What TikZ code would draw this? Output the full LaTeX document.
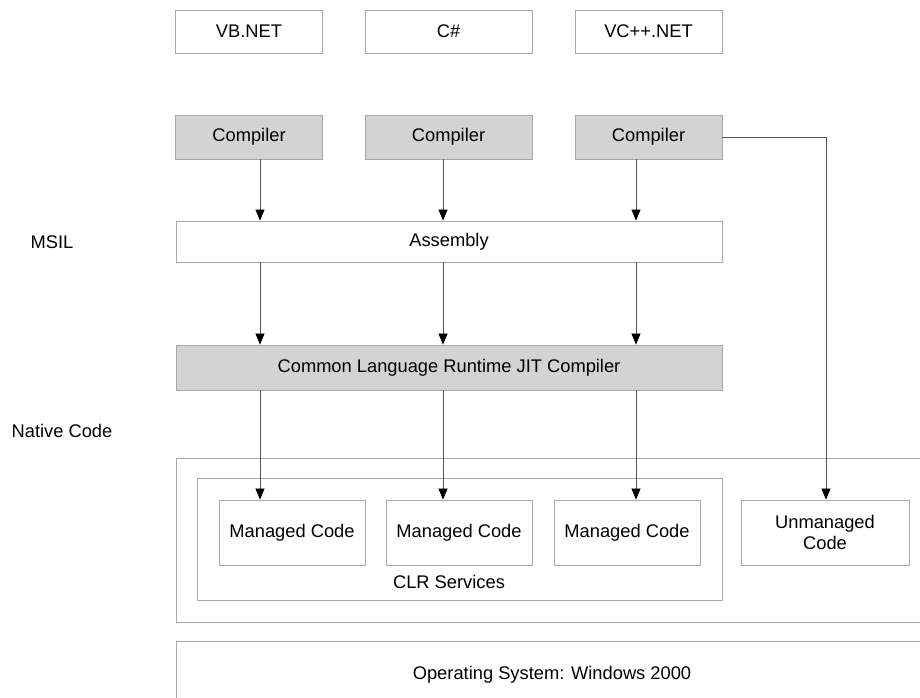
\documentclass[tikz,border=0pt]{standalone}
\usepackage{fontspec}
\setmainfont{Liberation Sans}
\usetikzlibrary{arrows.meta}
\definecolor{boxline}{HTML}{A8A8A8}
\definecolor{boxfill}{HTML}{D3D3D3}
\definecolor{conn}{HTML}{555555}
\tikzset{
  box/.style={draw=boxline, line width=0.9pt, fill=white, inner sep=0pt, font=\fontsize{18.3}{21}\selectfont},
  gbox/.style={box, fill=boxfill},
  lbl/.style={inner sep=0pt, font=\fontsize{18.3}{21}\selectfont},
  arr/.style={draw=conn, line width=0.7pt, -{Triangle[length=11pt,width=9pt,fill=black,color=black]}},
  ln/.style={draw=conn, line width=0.7pt}
}
\begin{document}
\begin{tikzpicture}[x=1pt,y=-1pt]
\useasboundingbox (0,0) rectangle (920,697);
\fill[white] (0,0) rectangle (920,697);
% columns
\coordinate (x1) at (260,0);
\coordinate (x2) at (443,0);
\coordinate (x3) at (636,0);
\coordinate (x4) at (826,0);
% outer containers (clipped at page edge)
\begin{scope}
\clip (0,0) rectangle (920,697);
\node[box, minimum width=752, minimum height=164] (outer) at (552,540) {};
\node[box, minimum width=752, minimum height=68] (os) at (552,675) {Operating System: Windows 2000};
\end{scope}
% top language boxes
\node[box, minimum width=147, minimum height=43] (vb) at (249,31.5) {VB.NET};
\node[box, minimum width=167, minimum height=43] (cs) at (448.5,31.5) {C\#};
\node[box, minimum width=147, minimum height=43] (vc) at (648.5,31.5) {VC++.NET};
% compilers
\node[gbox, minimum width=147, minimum height=44] (c1) at (249,137) {Compiler};
\node[gbox, minimum width=167, minimum height=44] (c2) at (448.5,137) {Compiler};
\node[gbox, minimum width=147, minimum height=44] (c3) at (648.5,137) {Compiler};
% assembly and JIT
\node[box, minimum width=546, minimum height=41] (asm) at (449,241.5) {Assembly};
\node[gbox, minimum width=546, minimum height=45] (jit) at (449,367.5) {Common Language Runtime JIT Compiler};
% side labels
\node[lbl] (msil) at (52,242) {MSIL};
\node[lbl] (native) at (62,431) {Native Code};
% CLR services
\node[box, minimum width=525, minimum height=122] (clr) at (459.5,539) {};
\node[lbl] (clrt) at (449,582) {CLR Services};
\node[box, minimum width=146, minimum height=65] (m1) at (292,532.5) {Managed Code};
\node[box, minimum width=146, minimum height=65] (m2) at (459,532.5) {Managed Code};
\node[box, minimum width=146, minimum height=65] (m3) at (627,532.5) {Managed Code};
\node[box, minimum width=168, minimum height=65, align=center] (um) at (825,532.5) {Unmanaged\\Code};
% connectors
\draw[arr] (c1.south -| x1) -- (asm.north -| x1);
\draw[arr] (c2.south -| x2) -- (asm.north -| x2);
\draw[arr] (c3.south -| x3) -- (asm.north -| x3);
\draw[arr] (asm.south -| x1) -- (jit.north -| x1);
\draw[arr] (asm.south -| x2) -- (jit.north -| x2);
\draw[arr] (asm.south -| x3) -- (jit.north -| x3);
\draw[arr] (jit.south -| x1) -- (m1.north -| x1);
\draw[arr] (jit.south -| x2) -- (m2.north -| x2);
\draw[arr] (jit.south -| x3) -- (m3.north -| x3);
\draw[arr] (c3.east) -- (c3.east -| x4) -- (um.north -| x4);
\end{tikzpicture}
\end{document}
